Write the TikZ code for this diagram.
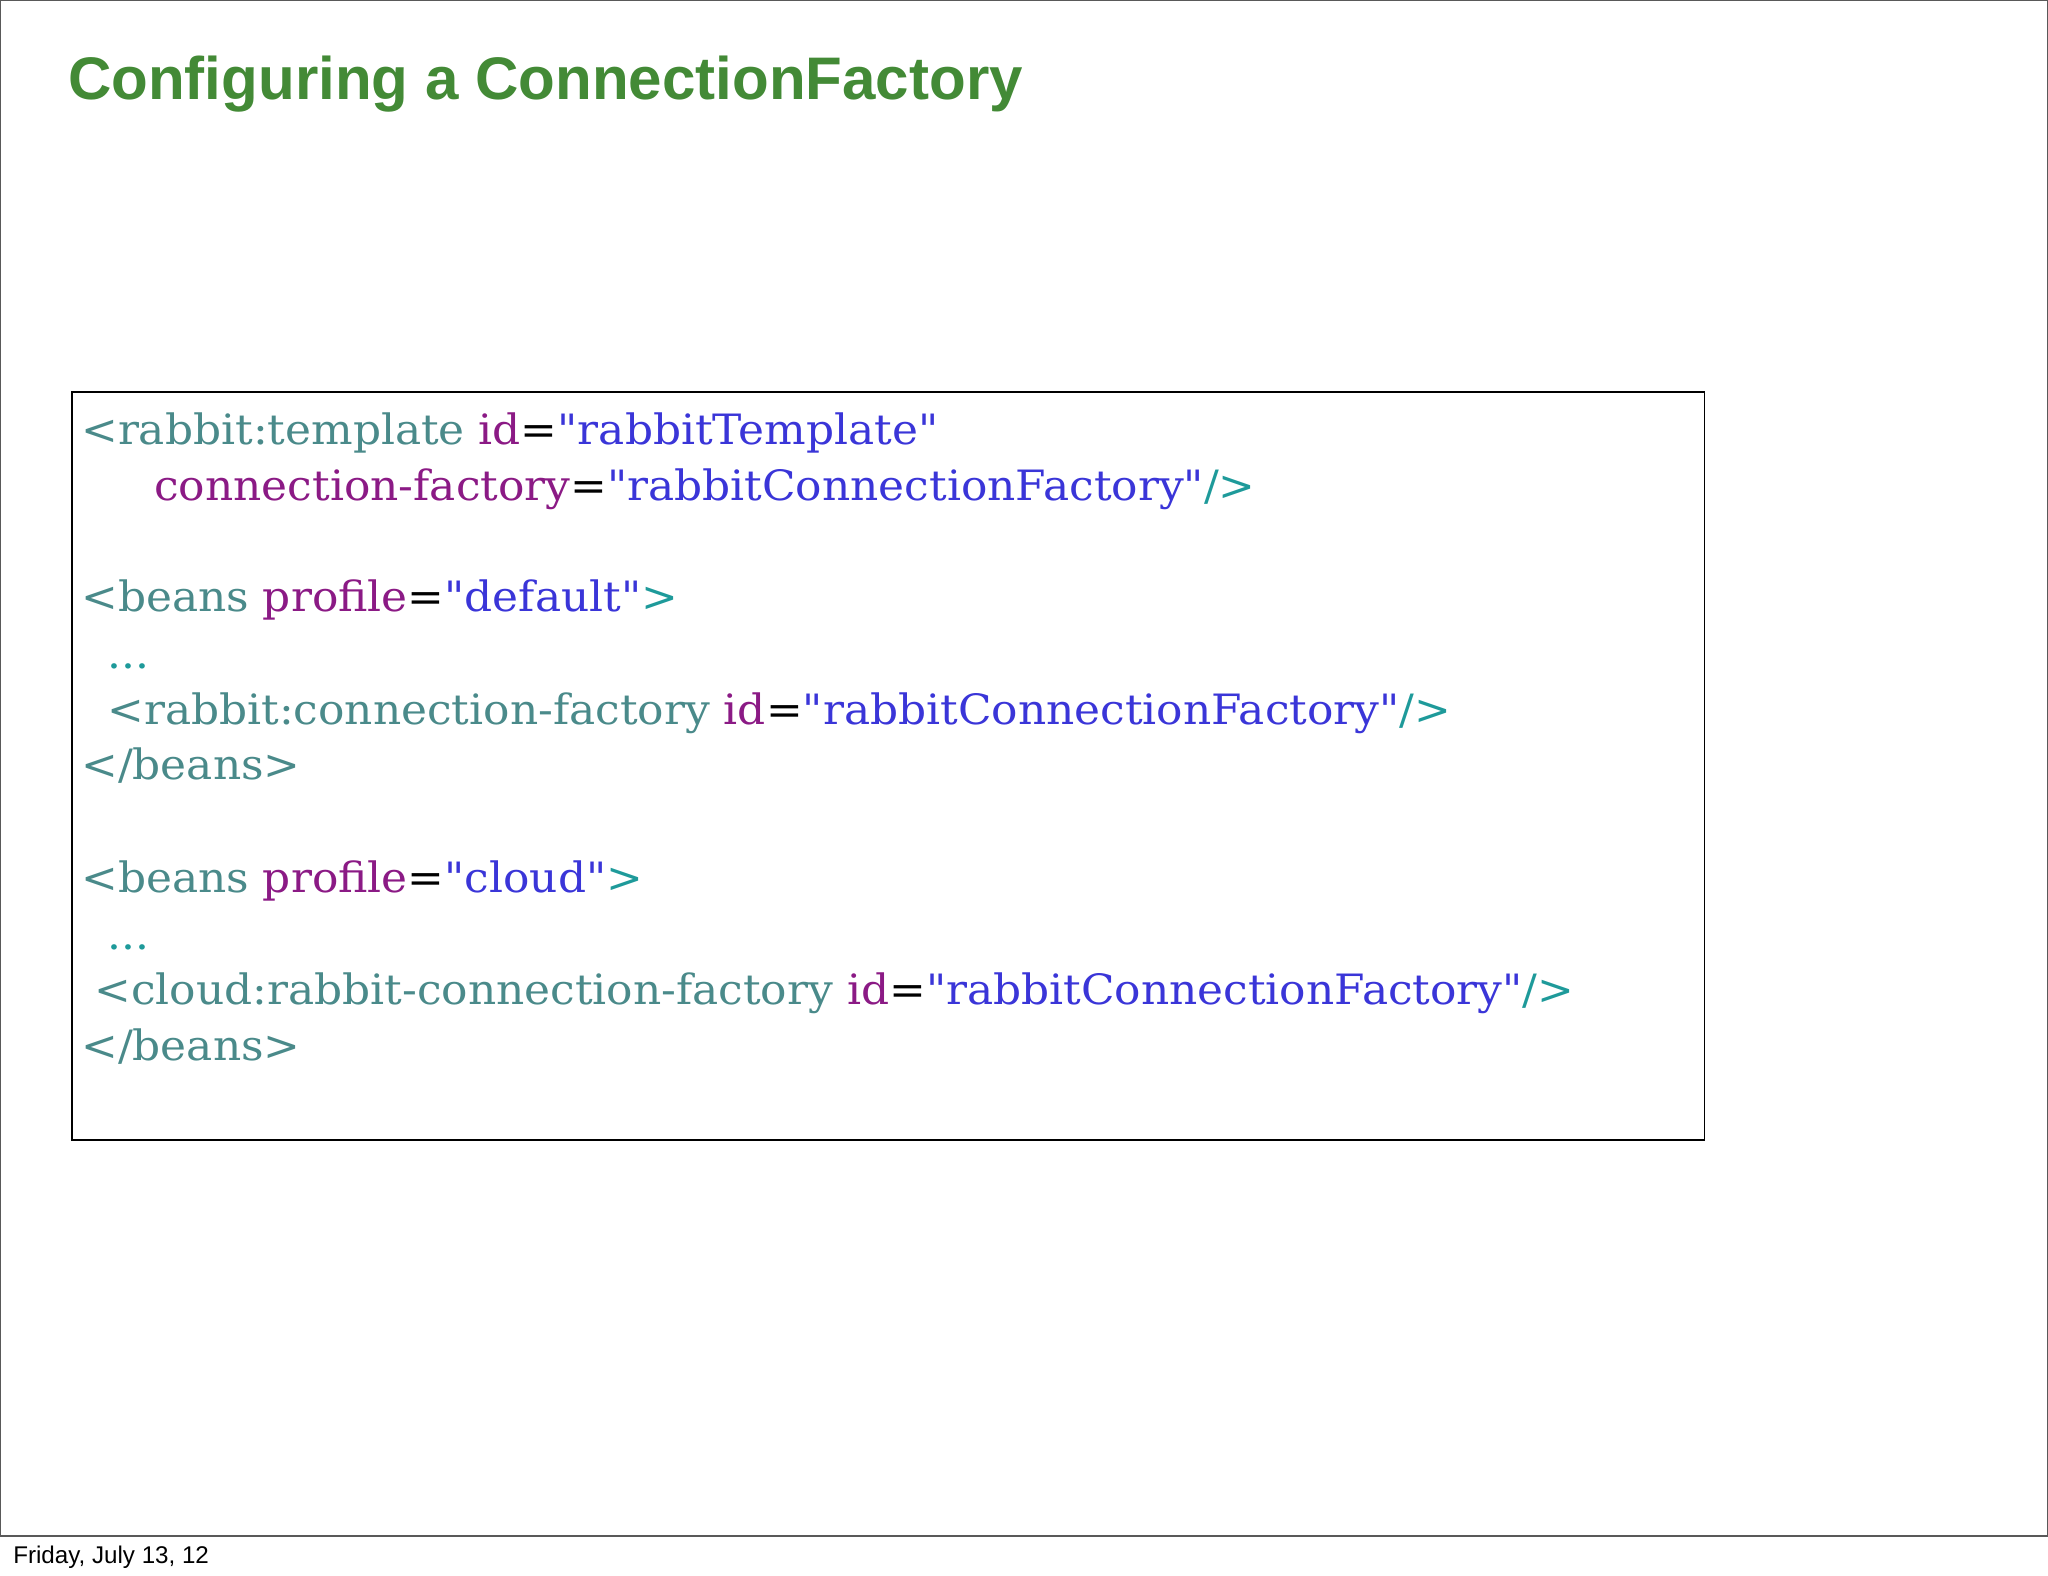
\documentclass[tikz,border=0pt]{standalone}
\usepackage{fontspec}
\setmainfont{Liberation Sans}
\newfontfamily\codefont[FakeStretch=1.05]{DejaVu Serif}
\definecolor{tagc}{HTML}{4A8A8A}
\definecolor{attc}{HTML}{8B1A85}
\definecolor{valc}{HTML}{3A35D8}
\definecolor{punc}{HTML}{1E9A9A}
\definecolor{titc}{HTML}{438A36}
\newcommand{\Tg}[1]{\textcolor{tagc}{#1}}
\newcommand{\At}[1]{\textcolor{attc}{#1}}
\newcommand{\Vl}[1]{\textcolor{valc}{#1}}
\newcommand{\Pn}[1]{\textcolor{punc}{#1}}
\begin{document}
\begin{tikzpicture}[x=1pt,y=-1pt,
  code/.style={anchor=base west,inner sep=0pt,font=\codefont\fontsize{32}{36}\selectfont}]
\useasboundingbox (0,0) rectangle (1568,1206);
\draw[line width=1pt,gray!70!black] (0,0) rectangle (1568,1176);
\node[anchor=base west,inner sep=0pt,text=titc,font=\fontsize{46}{52}\selectfont\bfseries] (title) at (52,76) {Configuring a ConnectionFactory};
\draw[line width=1.3pt] (55,300) rectangle (1305,873);
\node[code] (l1) at (62,340) {\Tg{<rabbit:template} \At{id}=\Vl{"rabbitTemplate"}};
\node[code] (l2) at (118,383) {\At{connection-factory}=\Vl{"rabbitConnectionFactory"}\Pn{/>}};
\node[code] (l4) at (62,468) {\Tg{<beans} \At{profile}=\Vl{"default"}\Pn{>}};
\node[code] (l5) at (82,512) {\Pn{...}};
\node[code] (l6) at (82,555) {\Tg{<rabbit:connection-factory} \At{id}=\Vl{"rabbitConnectionFactory"}\Pn{/>}};
\node[code] (l7) at (62,597) {\Tg{</beans>}};
\node[code] (l9) at (62,683) {\Tg{<beans} \At{profile}=\Vl{"cloud"}\Pn{>}};
\node[code] (l10) at (82,727) {\Pn{...}};
\node[code] (l11) at (72,769) {\Tg{<cloud:rabbit-connection-factory} \At{id}=\Vl{"rabbitConnectionFactory"}\Pn{/>}};
\node[code] (l12) at (62,812) {\Tg{</beans>}};
\node[anchor=base west,inner sep=0pt,font=\fontsize{18.5}{21}\selectfont] (foot) at (10,1197) {Friday, July 13, 12};
\end{tikzpicture}
\end{document}
